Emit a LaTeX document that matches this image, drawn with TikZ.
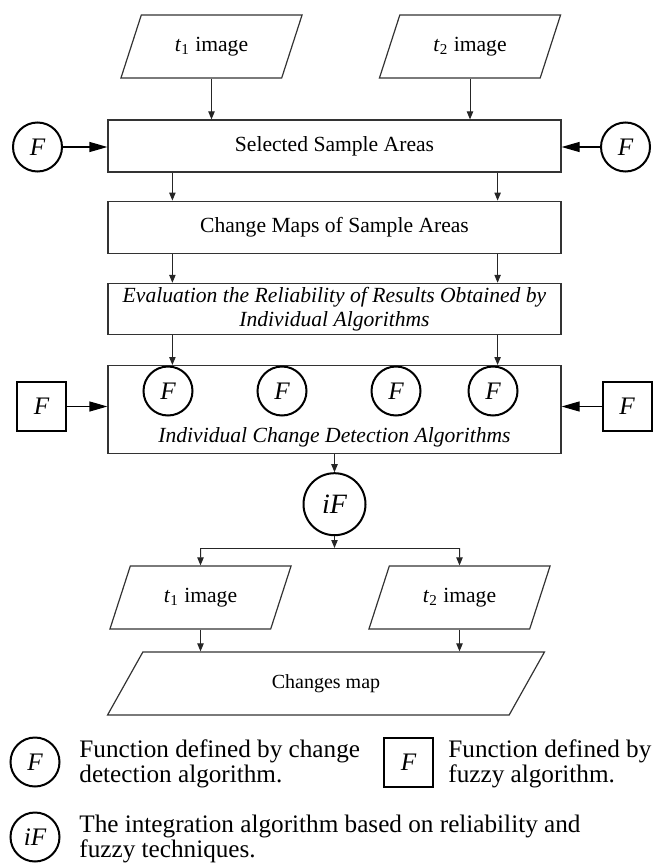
\documentclass[tikz,border=0pt]{standalone}
\usepackage{fontspec}
\setmainfont{Liberation Serif}
\usetikzlibrary{shapes.geometric, arrows.meta, positioning}
\tikzset{
  caja/.style={rectangle, draw=black!80, line width=0.6pt, minimum width=226.5pt,
               minimum height=26pt, align=center, inner sep=1pt,
               font=\fontsize{10.8}{12}\selectfont},
  imagen/.style={trapezium, trapezium left angle=64, trapezium right angle=116,
                 trapezium stretches=true, draw=black!80, line width=0.6pt,
                 minimum width=91pt, minimum height=31.5pt, inner sep=1pt,
                 font=\fontsize{10.8}{12}\selectfont},
  funcion/.style={circle, draw=black, line width=1pt, minimum size=24.5pt,
                  inner sep=0pt, font=\fontsize{12.6}{14}\selectfont\itshape},
  difusa/.style={rectangle, draw=black, line width=1pt, minimum size=24.5pt,
                 inner sep=0pt, font=\fontsize{12.6}{14}\selectfont\itshape},
  leyenda/.style={align=left, inner sep=0pt, font=\fontsize{12.6}{12.5}\selectfont},
  flecha/.style={-{Triangle[length=4pt, width=3.2pt]}, draw=black!85, line width=0.5pt},
  flechaG/.style={-{Triangle[length=9pt, width=5pt]}, draw=black, line width=0.6pt}
}

\begin{document}
\begin{tikzpicture}[x=0.5pt, y=-0.5pt]
  \useasboundingbox (0,0) rectangle (655,867);

  % ── Imágenes de entrada ──
  \node[imagen] (t1a) at (211.5,46.5) {\textit{t}\textsubscript{1} image};
  \node[imagen] (t2a) at (470,46.5)   {\textit{t}\textsubscript{2} image};

  % ── Columna principal ──
  \node[caja]                       (ssa) at (334.5,146) {Selected Sample Areas};
  \node[caja, below=14pt of ssa]    (cm)   {Change Maps of Sample Areas};
  \node[caja, below=14.5pt of cm, minimum height=25.5pt] (eval)
        {\textit{Evaluation the Reliability of Results Obtained by}\\
         \textit{Individual Algorithms}};
  \node[caja, below=15pt of eval, minimum height=44pt] (indiv) {};
  \node[anchor=base, inner sep=0pt, font=\fontsize{10.8}{12}\selectfont\itshape]
        (indivtxt) at ([yshift=6pt]indiv.south) {Individual Change Detection Algorithms};

  % ── Funciones de detección ──
  \node[funcion] (fl) at (37.5,147)  {F};
  \node[funcion] (fr) at (625.5,147) {F};
  \node[funcion] (f1) at (168,391)   {F};
  \node[funcion] (f2) at (282,391)   {F};
  \node[funcion] (f3) at (396,391)   {F};
  \node[funcion] (f4) at (493,391)   {F};
  \node[difusa]  (dl) at (41.5,406.5) {F};
  \node[difusa]  (dr) at (627,406.5)  {F};

  % ── Integración y salida ──
  \node[funcion, below=9pt of indiv, minimum size=31pt,
        font=\fontsize{14}{16}\selectfont\itshape] (ifn) {iF};
  \coordinate (split) at (334.5,548);
  \node[imagen] (t1b) at (200.5,597.5) {\textit{t}\textsubscript{1} image};
  \node[imagen] (t2b) at (459.5,597.5) {\textit{t}\textsubscript{2} image};
  \node[imagen, minimum width=219pt, font=\fontsize{10}{12}\selectfont]
        (cmap) at (326,683.5) {Changes map};

  % ── Leyenda ──
  \node[funcion] (legf) at (35,762)    {F};
  \node[leyenda, anchor=base west] (legftxt) at (79,782)
        {Function defined by change\\detection algorithm.};
  \node[difusa]  (legd) at (408.5,762) {F};
  \node[leyenda, anchor=base west] (legdtxt) at (448,782)
        {Function defined by\\fuzzy algorithm.};
  \node[funcion] (legi) at (35,837)    {iF};
  \node[leyenda, anchor=base west] (legitxt) at (79,857)
        {The integration algorithm based on reliability and\\fuzzy techniques.};

  % ── Flechas ──
  \draw[flecha] (t1a.south) -- (t1a.south |- ssa.north);
  \draw[flecha] (t2a.south) -- (t2a.south |- ssa.north);
  \draw[flechaG] (fl) -- (fl -| ssa.west);
  \draw[flechaG] (fr) -- (fr -| ssa.east);
  \draw[flecha] ([xshift=32.5pt]ssa.south west) -- ([xshift=32.5pt]cm.north west);
  \draw[flecha] ([xshift=-32pt]ssa.south east)  -- ([xshift=-32pt]cm.north east);
  \draw[flecha] ([xshift=32.5pt]cm.south west)  -- ([xshift=32.5pt]eval.north west);
  \draw[flecha] ([xshift=-32pt]cm.south east)   -- ([xshift=-32pt]eval.north east);
  \draw[flecha] ([xshift=32.5pt]eval.south west) -- ([xshift=32.5pt]indiv.north west);
  \draw[flecha] ([xshift=-32pt]eval.south east)  -- ([xshift=-32pt]indiv.north east);
  \draw[flechaG] (dl) -- (dl -| indiv.west);
  \draw[flechaG] (dr) -- (dr -| indiv.east);
  \draw[flecha] (indiv) -- (ifn);
  \draw[flecha] (ifn) -- (split);
  \draw[draw=black!85, line width=0.5pt] (t1b.north |- split) -- (t2b.north |- split);
  \draw[flecha] (t1b.north |- split) -- (t1b);
  \draw[flecha] (t2b.north |- split) -- (t2b);
  \draw[flecha] (t1b.south) -- (t1b.south |- cmap.north);
  \draw[flecha] (t2b.south) -- (t2b.south |- cmap.north);
\end{tikzpicture}
\end{document}
